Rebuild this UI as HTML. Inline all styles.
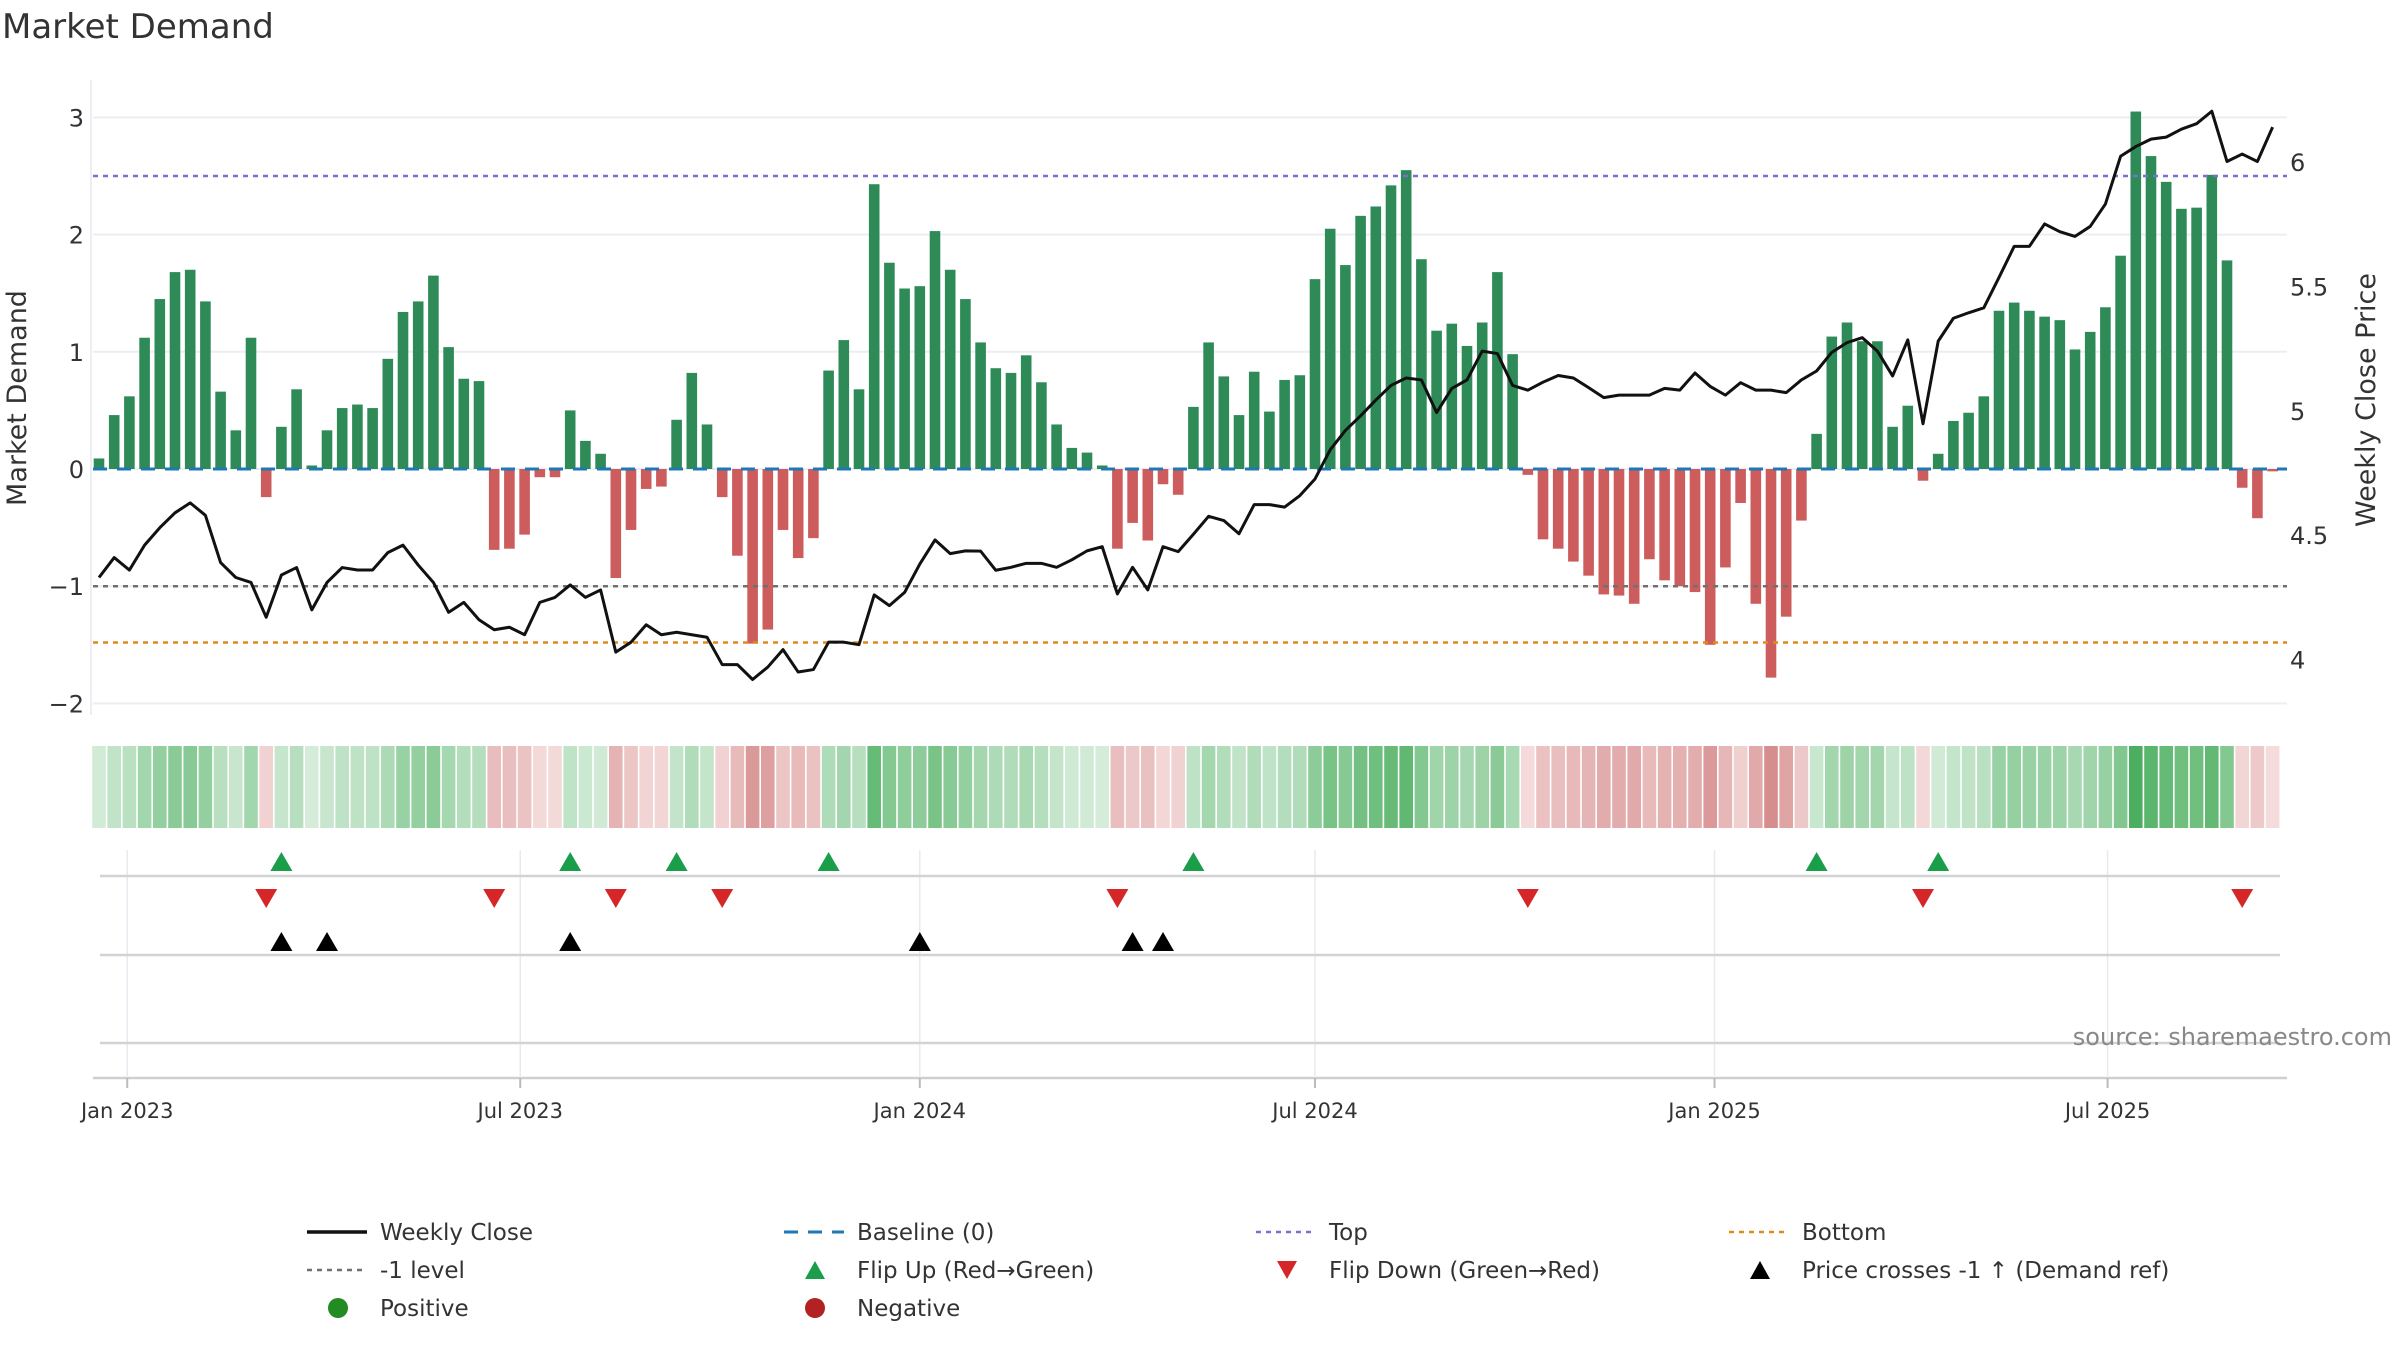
<!DOCTYPE html>
<html><head><meta charset="utf-8"><style>
html,body{margin:0;padding:0;background:#fff;}
svg{display:block;font-family:"DejaVu Sans","Liberation Sans",sans-serif;}
</style></head><body>
<svg id="chart" width="2400" height="1350" viewBox="0 0 2400 1350" xmlns="http://www.w3.org/2000/svg">
<text x="2" y="38" font-size="34" fill="#333">Market Demand</text>
<g id="grid"></g>
<g id="bars"></g>
<g id="refs"></g>
<g id="price"></g>
<g id="heat"></g>
<g id="marks"></g>
<g id="axes"></g>
<text x="2392" y="1045" font-size="24" fill="#888" text-anchor="end">source: sharemaestro.com</text>
<g id="legend"></g>
</svg>
<script>
const demand = [0.09,0.46,0.62,1.12,1.45,1.68,1.70,1.43,0.66,0.33,1.12,-0.24,0.36,0.68,0.03,0.33,0.52,0.55,0.52,0.94,1.34,1.43,1.65,1.04,0.77,0.75,-0.69,-0.68,-0.56,-0.07,-0.07,0.50,0.24,0.13,-0.93,-0.52,-0.17,-0.15,0.42,0.82,0.38,-0.24,-0.74,-1.49,-1.37,-0.52,-0.76,-0.59,0.84,1.10,0.68,2.43,1.76,1.54,1.56,2.03,1.70,1.45,1.08,0.86,0.82,0.97,0.74,0.38,0.18,0.14,0.03,-0.68,-0.46,-0.61,-0.13,-0.22,0.53,1.08,0.79,0.46,0.83,0.49,0.76,0.80,1.62,2.05,1.74,2.16,2.24,2.42,2.55,1.79,1.18,1.24,1.05,1.25,1.68,0.98,-0.05,-0.60,-0.68,-0.79,-0.91,-1.07,-1.08,-1.15,-0.77,-0.95,-1.00,-1.05,-1.50,-0.84,-0.29,-1.15,-1.78,-1.26,-0.44,0.30,1.13,1.25,1.09,1.09,0.36,0.54,-0.10,0.13,0.41,0.48,0.62,1.35,1.42,1.35,1.30,1.27,1.02,1.17,1.38,1.82,3.05,2.67,2.45,2.22,2.23,2.51,1.78,-0.16,-0.42,-0.02];
const closePrice = [4.33,4.41,4.36,4.46,4.53,4.59,4.63,4.58,4.39,4.33,4.31,4.17,4.34,4.37,4.20,4.31,4.37,4.36,4.36,4.43,4.46,4.38,4.31,4.19,4.23,4.16,4.12,4.13,4.10,4.23,4.25,4.30,4.25,4.28,4.03,4.07,4.14,4.10,4.11,4.10,4.09,3.98,3.98,3.92,3.97,4.04,3.95,3.96,4.07,4.07,4.06,4.26,4.217,4.27,4.384,4.481,4.426,4.437,4.436,4.359,4.371,4.387,4.387,4.371,4.401,4.437,4.454,4.264,4.371,4.28,4.454,4.434,4.504,4.576,4.559,4.506,4.623,4.623,4.613,4.659,4.726,4.843,4.921,4.980,5.043,5.102,5.132,5.124,4.993,5.090,5.124,5.240,5.230,5.102,5.083,5.115,5.142,5.132,5.093,5.053,5.063,5.063,5.063,5.090,5.083,5.152,5.098,5.063,5.113,5.083,5.083,5.073,5.124,5.160,5.235,5.274,5.294,5.240,5.140,5.285,4.948,5.280,5.372,5.394,5.414,5.536,5.661,5.661,5.751,5.720,5.701,5.741,5.831,6.023,6.062,6.092,6.100,6.132,6.154,6.204,6.002,6.032,6.002,6.140];
const leftTicks = [-2,-1,0,1,2,3];
const rightTicks = [4,4.5,5,5.5,6];
const xTickLabels = ["Jan 2023","Jul 2023","Jan 2024","Jul 2024","Jan 2025","Jul 2025"];
const xTickDays = [13,194,378,560,744,925];
const topLevel = 2.5, bottomLevel = -1.48, minusLevel = -1;

const NS="http://www.w3.org/2000/svg";
function mk(tag,attrs,parent,text){const e=document.createElementNS(NS,tag);for(const k in attrs)e.setAttribute(k,attrs[k]);if(text!==undefined)e.textContent=text;parent.appendChild(e);return e;}
const X0=99, STEP=15.2;
const xB=i=>X0+STEP*i;
const xD=d=>X0+STEP*d/7;
const yL=v=>469-117.2*v;
const yR=p=>162+(6-p)*248.8;
const PL=93, PR=2287;
const G=id=>document.getElementById(id);

leftTicks.forEach(t=>{const l=mk('line',{x1:PL,x2:PR,y1:yL(t),y2:yL(t),stroke:'#eceef4','stroke-width':2},G('grid'));

});
mk('line',{x1:91,x2:91,y1:80,y2:715,stroke:'#eceef4','stroke-width':2},G('grid'));
xTickDays.forEach(d=>{const l=mk('line',{x1:xD(d),x2:xD(d),y1:850,y2:1076,stroke:'#e8eaf0','stroke-width':1.5},G('grid'));

});

demand.forEach((v,i)=>{const y1=yL(Math.max(v,0)),y2=yL(Math.min(v,0));
const r=mk('rect',{x:xB(i)-5.3,y:y1,width:10.6,height:Math.max(y2-y1,1),fill:v>=0?'#2e8b57':'#cd5c5c'},G('bars'));

});

const b=mk('line',{x1:PL,x2:PR,y1:yL(0),y2:yL(0),stroke:'#1f77b4','stroke-width':3,'stroke-dasharray':'14 10'},G('refs'));


const tl=mk('line',{x1:PL,x2:PR,y1:yL(topLevel),y2:yL(topLevel),stroke:'#7b6fcf','stroke-width':2.5,'stroke-dasharray':'5 5'},G('refs'));


const ml=mk('line',{x1:PL,x2:PR,y1:yL(minusLevel),y2:yL(minusLevel),stroke:'#707070','stroke-width':2.5,'stroke-dasharray':'5 5'},G('refs'));


const bl=mk('line',{x1:PL,x2:PR,y1:yL(bottomLevel),y2:yL(bottomLevel),stroke:'#e08a1e','stroke-width':2.5,'stroke-dasharray':'5 5'},G('refs'));



const pl=mk('polyline',{points:closePrice.map((p,i)=>xB(i)+','+yR(p)).join(' '),fill:'none',stroke:'#111','stroke-width':3,'stroke-linejoin':'round'},G('price'));



function mix(a,b,t){return 'rgb('+a.map((c,k)=>Math.round(c+(b[k]-c)*t)).join(',')+')';}
demand.forEach((v,i)=>{let c;
if(v>=0)c=mix([214,237,219],[76,175,95],Math.min(v/3,1));
else c=mix([245,220,220],[214,140,140],Math.min(-v/1.8,1));
const r=mk('rect',{x:xB(i)-6.8,y:746,width:13.6,height:82,fill:c},G('heat'));

});

[876,955,1043].forEach(y=>{const l=mk('line',{x1:100,x2:2280,y1:y,y2:y,stroke:'#d3d3d3','stroke-width':2.5},G('marks'));

});
function tri(x,y,up,fill){const s=11;const pts=up?`${x-s},${y+9} ${x+s},${y+9} ${x},${y-10}`:`${x-s},${y-9} ${x+s},${y-9} ${x},${y+10}`;return mk('polygon',{points:pts,fill:fill},G('marks'));}
const thr=6-(yL(minusLevel)-162)/248.8;
for(let i=1;i<demand.length;i++){
 if(demand[i-1]<0&&demand[i]>=0){const t=tri(xB(i),862,true,'#1a9e4a');
 
 }
 if(demand[i-1]>=0&&demand[i]<0){const t=tri(xB(i),898,false,'#d62728');
 
 }
 if(closePrice[i-1]<thr&&closePrice[i]>=thr){const t=tri(xB(i),942,true,'#000');
 
 }
}

const ax=mk('line',{x1:PL,x2:PR,y1:1078,y2:1078,stroke:'#cfcfcf','stroke-width':2.5},G('axes'));


xTickDays.forEach((d,k)=>{mk('line',{x1:xD(d),x2:xD(d),y1:1078,y2:1088,stroke:'#bbb','stroke-width':2},G('axes'));
const t=mk('text',{x:xD(d),y:1118,'font-size':21,fill:'#333','text-anchor':'middle'},G('axes'),xTickLabels[k]);

});
leftTicks.forEach(v=>{const t=mk('text',{x:84,y:yL(v)+9,'font-size':24,fill:'#333','text-anchor':'end'},G('axes'),v<0?'\u2212'+(-v):String(v));

});
rightTicks.forEach(v=>{const t=mk('text',{x:2290,y:yR(v)+9,'font-size':24,fill:'#333'},G('axes'),String(v));

});
const lt=mk('text',{x:26,y:398,'font-size':27,fill:'#333','text-anchor':'middle',transform:'rotate(-90 26 398)'},G('axes'),'Market Demand');


const rt=mk('text',{x:2375,y:400,'font-size':27,fill:'#333','text-anchor':'middle',transform:'rotate(-90 2375 400)'},G('axes'),'Weekly Close Price');



const L=G('legend');
const cols=[307,784,1256,1729], rows=[1232,1270,1308];
function ltext(c,r,s){const t=mk('text',{x:cols[c]+73,y:rows[r]+8,'font-size':23,fill:'#333'},L,s);

}
function lline(c,r,col,dash,w){mk('line',{x1:cols[c],x2:cols[c]+60,y1:rows[r],y2:rows[r],stroke:col,'stroke-width':w,'stroke-dasharray':dash},L);}
lline(0,0,'#111','none',3.5);ltext(0,0,'Weekly Close');
lline(1,0,'#1f77b4','14 10',3);ltext(1,0,'Baseline (0)');
lline(2,0,'#7b6fcf','5 5',2.5);ltext(2,0,'Top');
lline(3,0,'#e08a1e','5 5',2.5);ltext(3,0,'Bottom');
lline(0,1,'#707070','5 5',2.5);ltext(0,1,'-1 level');
mk('polygon',{points:`${cols[1]+21},${rows[1]+9} ${cols[1]+41},${rows[1]+9} ${cols[1]+31},${rows[1]-9}`,fill:'#1a9e4a'},L);ltext(1,1,'Flip Up (Red\u2192Green)');
mk('polygon',{points:`${cols[2]+21},${rows[1]-9} ${cols[2]+41},${rows[1]-9} ${cols[2]+31},${rows[1]+9}`,fill:'#d62728'},L);ltext(2,1,'Flip Down (Green\u2192Red)');
mk('polygon',{points:`${cols[3]+21},${rows[1]+9} ${cols[3]+41},${rows[1]+9} ${cols[3]+31},${rows[1]-9}`,fill:'#000'},L);ltext(3,1,'Price crosses -1 \u2191 (Demand ref)');
mk('circle',{cx:cols[0]+31,cy:rows[2],r:10,fill:'#228b22'},L);ltext(0,2,'Positive');
mk('circle',{cx:cols[1]+31,cy:rows[2],r:10,fill:'#b22222'},L);ltext(1,2,'Negative');
</script>
</body></html>
